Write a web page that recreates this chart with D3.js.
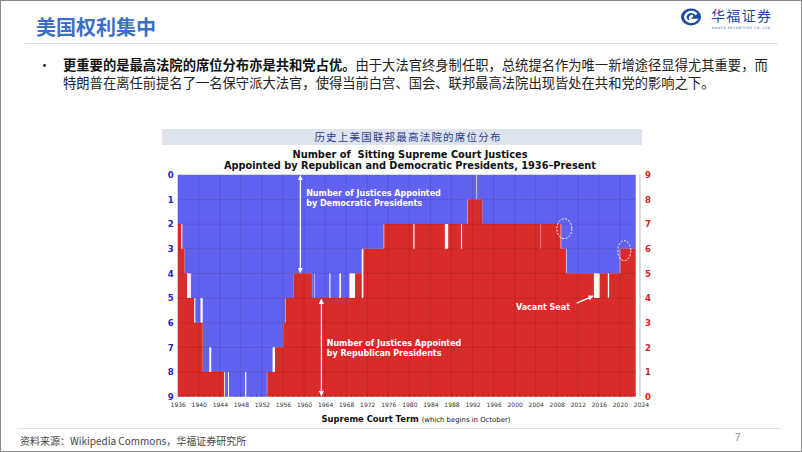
<!DOCTYPE html>
<html>
<head>
<meta charset="utf-8">
<script src="https://cdn.jsdelivr.net/npm/d3@7"></script>
<style>
  body { margin: 0; background: #fff; }
  svg { display: block; }
</style>
</head>
<body>
<svg width="802" height="452"></svg>
<script>
// term start (Supreme Court term years, October = .0), and seats held
var termStart = [1936.00, 1936.67, 1936.88, 1937.30, 1937.77, 1938.33, 1938.37, 1938.54, 1939.12, 1939.35,
                 1940.33, 1940.75, 1942.00, 1942.37, 1944.83, 1945.00, 1945.55, 1945.73, 1948.80, 1949.03,
                 1952.94, 1953.01, 1954.02, 1954.49, 1956.04, 1956.40, 1956.48, 1958.03, 1961.50, 1961.54,
                 1961.91, 1962.00, 1964.81, 1965.01, 1966.70, 1967.00, 1968.62, 1969.69, 1970.96, 1971.27,
                 1975.12, 1975.22, 1980.75, 1980.98, 1986.74, 1987.38, 1989.80, 1990.02, 1991.00, 1991.06,
                 1992.74, 1992.86, 1993.84, 2004.92, 2004.99, 2008.74, 2008.85, 2009.74, 2009.85, 2015.05,
                 2016.15, 2017.70, 2017.95, 2019.96, 2020.07];
var repSeats  = [7, 6, 6, 5, 4, 4, 4, 4, 3, 3,
                 3, 1, 1, 1, 0, 0, 0, 0, 0, 0,
                 0, 1, 1, 2, 3, 3, 4, 5, 4, 4,
                 4, 4, 4, 4, 4, 4, 4, 5, 4, 6,
                 6, 7, 6, 7, 6, 7, 6, 7, 7, 8,
                 8, 8, 7, 6, 7, 6, 6, 5, 5, 4,
                 5, 4, 5, 5, 6];
var demSeats  = [2, 2, 3, 4, 4, 5, 4, 5, 5, 6,
                 5, 8, 7, 8, 8, 9, 8, 9, 8, 9,
                 8, 8, 7, 7, 6, 5, 5, 4, 4, 5,
                 4, 5, 4, 5, 4, 5, 4, 4, 3, 3,
                 2, 2, 2, 2, 2, 2, 2, 2, 1, 1,
                 0, 1, 2, 2, 2, 2, 3, 3, 4, 4,
                 4, 4, 4, 3, 3];
var lastTerm = 2023.0;
var yearTicks = d3.range(1936, 2025, 4);
var seatTicks = d3.range(0, 10);

var blue = "#6262f2", red = "#da2b2b";

var svg = d3.select("svg");

// slide frame
svg.append("rect").attr("x", 0.5).attr("y", 0.5).attr("width", 801).attr("height", 451)
   .attr("fill", "#fff").attr("stroke", "#8a8a8a");

// slide title
svg.append("text").attr("x", 36).attr("y", 35)
   .attr("font-family", "Noto Sans CJK SC").attr("font-size", 20).attr("font-weight", 700)
   .attr("fill", "#3c6fc6").text("美国权利集中");
svg.append("line").attr("x1", 25).attr("x2", 778).attr("y1", 43.5).attr("y2", 43.5)
   .attr("stroke", "#dedede");

// logo
var logo = svg.append("g").attr("transform", "translate(691,17)");
logo.append("ellipse").attr("rx", 10).attr("ry", 8.5).attr("fill", "#1d4aa0");
logo.append("path").attr("d", "M5.5,-2.5 A6,5 0 1 0 5,3 L1,3 A2.5,2 0 1 1 2,-1")
    .attr("fill", "none").attr("stroke", "#fff").attr("stroke-width", 2.4);
svg.append("text").attr("x", 711).attr("y", 21)
   .attr("font-family", "Noto Sans CJK SC").attr("font-size", 14).attr("fill", "#1d4aa0")
   .attr("textLength", 60).text("华福证券");
svg.append("text").attr("x", 712).attr("y", 29)
   .attr("font-family", "DejaVu Sans").attr("font-size", 3.2).attr("fill", "#1d4aa0")
   .attr("textLength", 58).text("HUAFU SECURITIES CO.,LTD");

// bullet text
svg.append("text").attr("x", 38).attr("y", 70)
   .attr("font-family", "Noto Sans CJK SC").attr("font-size", 13).attr("fill", "#222").text("•");
var t1 = svg.append("text").attr("x", 63).attr("y", 70)
   .attr("font-family", "Noto Sans CJK SC").attr("font-size", 13.3).attr("fill", "#222");
t1.append("tspan").attr("font-weight", 700).attr("fill", "#111").text("更重要的是最高法院的席位分布亦是共和党占优。");
t1.append("tspan").text("由于大法官终身制任职，总统提名作为唯一新增途径显得尤其重要，而");
svg.append("text").attr("x", 63).attr("y", 88)
   .attr("font-family", "Noto Sans CJK SC").attr("font-size", 13.3).attr("fill", "#222")
   .text("特朗普在离任前提名了一名保守派大法官，使得当前白宫、国会、联邦最高法院出现皆处在共和党的影响之下。");

// chart header band
svg.append("rect").attr("x", 162).attr("y", 129).attr("width", 480).attr("height", 16).attr("fill", "#dde4ee");
svg.append("text").attr("x", 408).attr("y", 141).attr("text-anchor", "middle")
   .attr("font-family", "Noto Sans CJK SC").attr("font-size", 10.5).attr("letter-spacing", 1.2)
   .attr("fill", "#2c3d8e").text("历史上美国联邦最高法院的席位分布");

svg.append("text").attr("x", 410).attr("y", 158).attr("text-anchor", "middle")
   .attr("font-family", "DejaVu Sans").attr("font-size", 9.8).attr("font-weight", 700)
   .attr("fill", "#111").attr("xml:space", "preserve").text("Number of  Sitting Supreme Court Justices");
svg.append("text").attr("x", 410).attr("y", 169).attr("text-anchor", "middle")
   .attr("font-family", "DejaVu Sans").attr("font-size", 9.8).attr("font-weight", 700)
   .attr("fill", "#111").attr("textLength", 372).text("Appointed by Republican and Democratic Presidents, 1936\u2013Present");

// scales
var x = d3.scaleLinear().domain([1936, 2024]).range([177.7, 641]);
var y = d3.scaleLinear().domain([0, 9]).range([174.7, 396.7]);

var pts = termStart.map(function(t, i) { return { t: t, r: repSeats[i], d: demSeats[i] }; });
pts.push({ t: lastTerm, r: repSeats[repSeats.length - 1], d: demSeats[demSeats.length - 1] });

var demArea = d3.area().curve(d3.curveStepAfter)
    .x(function(p) { return x(p.t); })
    .y0(y(0))
    .y1(function(p) { return y(p.d); });
var repArea = d3.area().curve(d3.curveStepAfter)
    .x(function(p) { return x(p.t); })
    .y0(y(9))
    .y1(function(p) { return y(9 - p.r); });

svg.append("path").datum(pts).attr("d", demArea).attr("fill", blue);
svg.append("path").datum(pts).attr("d", repArea).attr("fill", red);

// grid
var grid = svg.append("g").attr("stroke", "#000").attr("stroke-opacity", 0.13).attr("stroke-width", 0.9);
grid.selectAll(".gx").data(yearTicks.slice(1, -1)).enter().append("line")
    .attr("x1", function(d) { return x(d); }).attr("x2", function(d) { return x(d); })
    .attr("y1", y(0)).attr("y2", y(9));
grid.selectAll(".gy").data(seatTicks.slice(1, -1)).enter().append("line")
    .attr("x1", x(1936)).attr("x2", x(lastTerm))
    .attr("y1", function(d) { return y(d); }).attr("y2", function(d) { return y(d); });

// yearly minor ticks on bottom
svg.append("g").selectAll("line").data(d3.range(1937, 2023)).enter().append("line")
   .attr("x1", function(d) { return x(d); }).attr("x2", function(d) { return x(d); })
   .attr("y1", y(9) - 2.5).attr("y2", y(9))
   .attr("stroke", "#000").attr("stroke-opacity", 0.25);

// right axis line
svg.append("line").attr("x1", x(2024) - 1).attr("x2", x(2024) - 1).attr("y1", y(0)).attr("y2", y(9))
   .attr("stroke", "#bbb");

// axes
var xAxis = svg.append("g").attr("transform", "translate(0," + (y(9) + 3) + ")")
   .call(d3.axisBottom(x).tickValues(yearTicks).tickFormat(d3.format("d")).tickSize(0));
xAxis.select(".domain").remove();
xAxis.selectAll("text").attr("font-family", "DejaVu Sans").attr("font-size", 6).attr("fill", "#333");

var yLeft = svg.append("g").attr("transform", "translate(" + (x(1936) - 4) + ",0)")
   .call(d3.axisLeft(y).tickValues(seatTicks).tickFormat(d3.format("d")).tickSize(0).tickPadding(0));
yLeft.select(".domain").remove();
yLeft.selectAll("text").attr("font-family", "DejaVu Sans").attr("font-size", 8.5)
   .attr("font-weight", 700).attr("fill", "#2424c8");

var yR = d3.scaleLinear().domain([9, 0]).range([174.7, 396.7]);
var yRight = svg.append("g").attr("transform", "translate(" + (x(2024) + 4) + ",0)")
   .call(d3.axisRight(yR).tickValues(seatTicks).tickFormat(d3.format("d")).tickSize(0).tickPadding(0));
yRight.select(".domain").remove();
yRight.selectAll("text").attr("font-family", "DejaVu Sans").attr("font-size", 8.5)
   .attr("font-weight", 700).attr("fill", "#d42222");

// x axis title
var xt = svg.append("text").attr("x", 416).attr("y", 421.5).attr("text-anchor", "middle")
   .attr("font-family", "DejaVu Sans").attr("fill", "#111");
xt.append("tspan").attr("font-size", 8.4).attr("font-weight", 700).text("Supreme Court Term ");
xt.append("tspan").attr("font-size", 6.9).text("(which begins in October)");

// annotations
var defs = svg.append("defs");
defs.append("marker").attr("id", "ah").attr("viewBox", "0 0 10 10").attr("refX", 9).attr("refY", 5)
    .attr("markerWidth", 4).attr("markerHeight", 4).attr("orient", "auto-start-reverse")
    .append("path").attr("d", "M0,0 L10,5 L0,10 z").attr("fill", "#fff");

var ann = svg.append("g");
ann.append("line").attr("x1", x(1959.3)).attr("x2", x(1959.3)).attr("y1", y(0) + 1).attr("y2", y(4) - 1)
   .attr("stroke", "#fff").attr("stroke-width", 1.3)
   .attr("marker-start", "url(#ah)").attr("marker-end", "url(#ah)");
ann.append("line").attr("x1", x(1963.3)).attr("x2", x(1963.3)).attr("y1", y(5.05)).attr("y2", y(9) - 1)
   .attr("stroke", "#fff").attr("stroke-width", 1.3)
   .attr("marker-start", "url(#ah)").attr("marker-end", "url(#ah)");

function label(tx, ty, lines) {
  lines.forEach(function(s, i) {
    ann.append("text").attr("x", x(tx)).attr("y", y(ty) + i * 9.6)
       .attr("font-family", "DejaVu Sans").attr("font-size", 8).attr("font-weight", 700)
       .attr("fill", "#fff").text(s);
  });
}
label(1960.4, 0.87, ["Number of Justices Appointed", "by Democratic Presidents"]);
label(1964.3, 6.95, ["Number of Justices Appointed", "by Republican Presidents"]);
label(2000.25, 5.47, ["Vacant Seat"]);

ann.append("line").attr("x1", x(2011.8)).attr("y1", y(5.21)).attr("x2", x(2014.9)).attr("y2", y(4.92))
   .attr("stroke", "#fff").attr("stroke-width", 1.3).attr("marker-end", "url(#ah)");

[[2009.43, 2.19, 7.5], [2020.83, 3.08, 6.5]].forEach(function(e) {
  ann.append("ellipse").attr("cx", x(e[0])).attr("cy", y(e[1])).attr("rx", e[2]).attr("ry", 10)
     .attr("fill", "none").attr("stroke", "#fff").attr("stroke-width", 1).attr("stroke-dasharray", "2,1.5");
});

// footer
svg.append("line").attr("x1", 17).attr("x2", 781).attr("y1", 428.5).attr("y2", 428.5).attr("stroke", "#e2e2e2");
svg.append("text").attr("x", 20).attr("y", 445)
   .attr("font-family", "Noto Sans CJK SC").attr("font-size", 10).attr("fill", "#444")
   .text("资料来源：Wikipedia Commons，华福证券研究所");
svg.append("text").attr("x", 735).attr("y", 441)
   .attr("font-family", "Liberation Sans").attr("font-size", 10).attr("fill", "#888").text("7");
</script>
</body>
</html>
